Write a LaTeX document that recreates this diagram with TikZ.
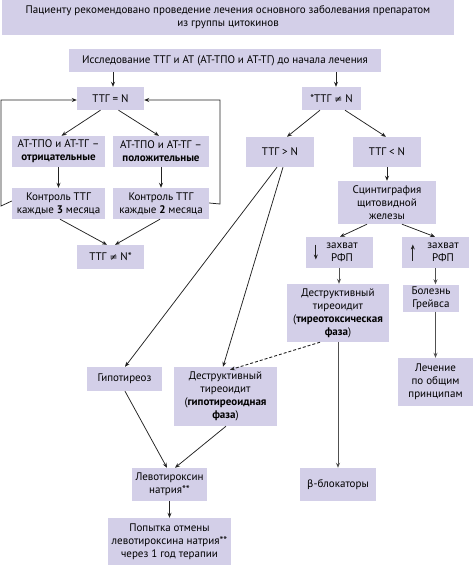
\documentclass[tikz,border=0pt]{standalone}
\usepackage{fontspec}
\setmainfont{PT Sans}
\newfontfamily\symf{DejaVu Sans}
\usetikzlibrary{arrows.meta}
\definecolor{boxfill}{HTML}{D3CFE8}
\definecolor{ln}{HTML}{222222}
\definecolor{lngray}{HTML}{505050}
\tikzset{
  box/.style={fill=boxfill, draw=none, inner sep=0pt, align=center, font=\fontsize{11bp}{13bp}\selectfont},
  txt/.style={inner sep=0pt, align=center, font=\fontsize{11bp}{13bp}\selectfont},
  arr/.style={draw=ln, line width=0.75bp, -{Stealth[length=5bp,width=4bp]}},
  garr/.style={draw=lngray, line width=1bp, -{Stealth[length=5bp,width=4bp]}},
  dasharr/.style={draw=ln, line width=0.9bp, dash pattern=on 3bp off 2bp, -{Stealth[length=5bp,width=4bp]}}
}
\begin{document}
\begin{tikzpicture}[x=1bp,y=-1bp]
\useasboundingbox (0,0) rectangle (474,565);
% nodes
\node[box, minimum width=452bp, minimum height=35bp] (top) at (228,17.5) {Пациенту рекомендовано проведение лечения основного заболевания препаратом\\из группы цитокинов};
\node[box, minimum width=312bp, minimum height=23bp] (issl) at (225,60.5) {Исследование ТТГ и АТ (АТ-ТПО и АТ-ТГ) до начала лечения};
\node[box, minimum width=67bp, minimum height=23bp] (ttgN) at (110.5,98.5) {ТТГ = N};
\node[box, minimum width=59bp, minimum height=23bp] (ttgNe) at (331.5,98.5) {*ТТГ {\symf\fontsize{9.5bp}{10bp}\selectfont ≠} N};
\node[box, minimum width=93bp, minimum height=31bp] (atneg) at (58.5,151.5) {АТ-ТПО и АТ-ТГ –\\\textbf{отрицательные}};
\node[box, minimum width=96bp, minimum height=31bp] (atpos) at (161,151.5) {АТ-ТПО и АТ-ТГ –\\\textbf{положительные}};
\node[box, minimum width=93bp, minimum height=31bp] (k3) at (58.5,203.5) {Контроль ТТГ\\каждые \textbf{3} месяца};
\node[box, minimum width=96bp, minimum height=31bp] (k2) at (161,203.5) {Контроль ТТГ\\каждые \textbf{2} месяца};
\node[box, minimum width=67bp, minimum height=24bp] (ttgNs) at (110.5,257) {ТТГ {\symf\fontsize{9.5bp}{10bp}\selectfont ≠} N*};
\node[box, minimum width=68bp, minimum height=30bp] (gt) at (280,152) {ТТГ > N};
\node[box, minimum width=68bp, minimum height=30bp] (lt) at (387,152) {ТТГ < N};
\node[box, minimum width=98bp, minimum height=43bp] (scin) at (387,202.5) {Сцинтиграфия\\щитовидной\\железы};
\node[box, minimum width=67bp, minimum height=31bp] (zdown) at (339.5,252.5) {};
\node[txt] (zdownt) at (342,252.5) {захват\\РФП};
\node[box, minimum width=67bp, minimum height=31bp] (zup) at (435.5,252.5) {};
\node[txt] (zupt) at (443,252.5) {захват\\РФП};
\node[box, minimum width=102bp, minimum height=58bp] (dtt) at (338,313) {Деструктивный\\тиреоидит\\(\textbf{тиреотоксическая}\\\textbf{фаза})};
\node[box, minimum width=56bp, minimum height=27bp] (graves) at (431,298) {Болезнь\\Грейвса};
\node[box, minimum width=75bp, minimum height=48bp] (lech) at (435.5,382) {Лечение\\по общим\\принципам};
\node[box, minimum width=75bp, minimum height=24bp] (hypo) at (124.5,379) {Гипотиреоз};
\node[box, minimum width=103bp, minimum height=59bp] (dhypo) at (225.5,396.5) {Деструктивный\\тиреоидит\\(\textbf{гипотиреоидная}\\\textbf{фаза})};
\node[box, minimum width=75bp, minimum height=33bp] (levo) at (169.5,484.5) {Левотироксин\\натрия**};
\node[box, minimum width=123bp, minimum height=47bp] (pop) at (169.5,541.5) {Попытка отмены\\левотироксина натрия**\\через 1 год терапии};
\node[box, minimum width=76bp, minimum height=33bp] (beta) at (338,484.5) {{\symf\fontsize{10bp}{10bp}\selectfont β}-блокаторы};
% small arrows inside capture boxes
\draw[arr] ([xshift=10bp,yshift=8bp]zdown.west) -- ([xshift=10bp,yshift=-7bp]zdown.west);
\draw[arr] ([xshift=11bp,yshift=-8bp]zup.west) -- ([xshift=11bp,yshift=8bp]zup.west);
% connectors
\draw[arr] ([xshift=2.5bp]ttgN.north |- issl.south) -- ([xshift=2.5bp]ttgN.north);
\draw[arr] ([xshift=4.5bp]ttgNe.north |- issl.south) -- ([xshift=4.5bp]ttgNe.north);
\draw[arr] ([xshift=-10bp]ttgN.south) -- ([xshift=3bp]atneg.north);
\draw[arr] ([xshift=8bp]ttgN.south) -- ([xshift=-2bp]atpos.north);
\draw[arr] (atneg) -- (k3);
\draw[arr] (atpos) -- (k2);
\coordinate (lc) at (1,206);
\coordinate (rc) at (220,204);
\draw[arr] ([yshift=2.5bp]k3.west) -- (lc) |- ([yshift=-1.5bp]ttgN.west);
\draw[arr] ([yshift=0.5bp]k2.east) -- (rc) |- ([yshift=-1.5bp]ttgN.east);
\draw[arr] ([xshift=1.5bp]k3.south) -- ([xshift=-3.5bp]ttgNs.north);
\draw[arr] ([xshift=-1bp]k2.south) -- ([xshift=4.5bp]ttgNs.north);
\draw[arr] ([xshift=-11.5bp]ttgNe.south) -- ([xshift=7bp]gt.north);
\draw[arr] ([xshift=13.5bp]ttgNe.south) -- ([xshift=-1bp]lt.north);
\draw[arr] (lt) -- (scin);
\draw[arr] ([xshift=-20bp]scin.south) -- ([xshift=0.5bp]zdown.north);
\draw[arr] ([xshift=15bp]scin.south) -- ([xshift=-0.5bp]zup.north);
\draw[garr] ([xshift=-0.5bp]zdown.south) -- ([xshift=-0.5bp]zdown.south |- dtt.north);
\draw[garr] (zup.south) -- (zup.south |- graves.north);
\draw[garr] (zup.south |- graves.south) -- (lech.north);
\draw[garr] (dtt) -- (beta);
\draw[arr] ([xshift=-3bp]gt.south) -- ([xshift=0.5bp]hypo.north);
\draw[arr] ([xshift=3bp]gt.south) -- ([xshift=-2.5bp]dhypo.north);
\draw[dasharr] ([xshift=-18bp]dtt.south) -- ([xshift=4.5bp,yshift=-3bp]dhypo.north);
\draw[arr] ([xshift=0.5bp]hypo.south) -- ([xshift=-2.5bp]levo.north);
\draw[arr] ([xshift=0.5bp]dhypo.south) -- ([xshift=5.5bp]levo.north);
\draw[arr] (levo) -- (pop);
\end{tikzpicture}
\end{document}
